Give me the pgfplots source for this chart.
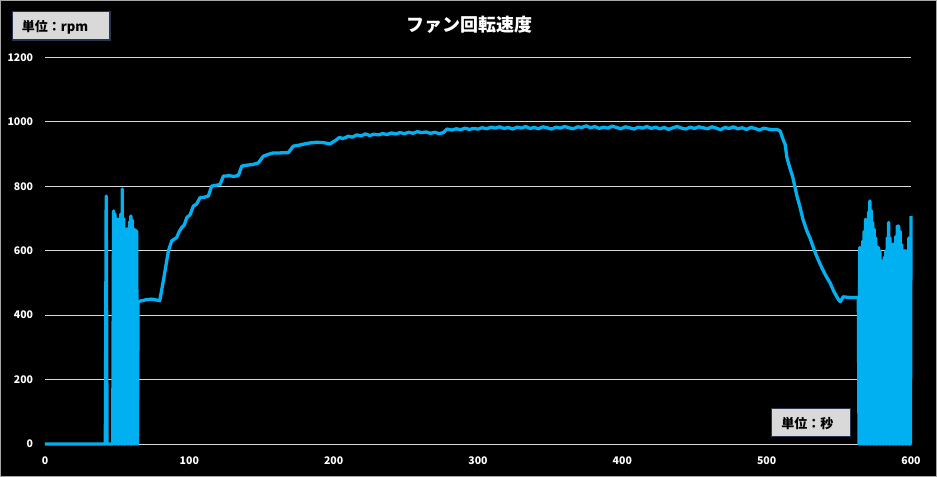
\documentclass[border=0pt]{standalone}
\usepackage{pgfplots}
\pgfplotsset{compat=1.18}
\usepackage{fontspec}
\setmainfont{Noto Sans CJK JP}
\definecolor{fan}{RGB}{0,176,240}
\definecolor{gridc}{RGB}{217,217,217}
\definecolor{boxfill}{RGB}{217,217,217}
\definecolor{boxedge}{RGB}{40,52,80}
\begin{document}
\begin{tikzpicture}
\fill[black] (0,0) rectangle (937bp,477bp);
\draw[gray!70, line width=1bp] (0.5bp,0.5bp) rectangle (936.5bp,476.5bp);
\begin{axis}[
  at={(45bp,33bp)}, anchor=south west,
  scale only axis, width=866bp, height=386.4bp,
  xmin=0, xmax=600, ymin=0, ymax=1200,
  xtick={0,100,...,600}, ytick={0,200,...,1200},
  ymajorgrids, grid style={gridc, line width=1bp},
  axis line style={draw=none}, major tick length=0pt,
  clip=false,
  /pgf/number format/assume math mode=true,
  ticklabel style={text=white, font=\bfseries\fontsize{10.5bp}{12bp}\selectfont, inner sep=0pt},
  xticklabel style={anchor=base, yshift=-20bp},
  yticklabel style={anchor=base east, xshift=-11.7bp, yshift=-3.7bp},
  /pgf/number format/.cd, 1000 sep={},
]
\addplot[fan, line width=3.3bp, line join=round] coordinates {
(0,0) (41.8,0) (42.4,770) (43.0,0) (46.9,0)
(47.5,724) (48.0,0) (48.5,715) (49.0,0) (49.5,700) (50.0,0) (50.5,693) (51.0,0)
(51.5,700) (52.0,0) (52.5,714) (53.0,0) (53.5,792) (54.0,0) (54.5,700) (55.0,0)
(55.5,668) (56.0,0) (56.5,668) (57.0,0) (57.5,668) (58.0,0) (58.5,690) (59.0,0)
(59.5,708) (60.0,0) (60.5,695) (61.0,0) (61.5,668) (62.0,0) (62.5,665) (63.0,0)
(63.5,662) (64.0,0) (64.5,440)
(66,444) (70,448) (74,450) (79.5,445) (82,507) (85.5,600) (87.8,631) (89.5,636)
(91.2,641) (93,660) (94.7,672) (96.5,680) (98.2,703) (100.5,712) (102.8,739)
(105,745) (107.4,765) (110,766) (113.2,770) (115.5,801) (118,803) (121.3,806)
(123.6,832) (128,833) (131,831) (134,834) (136.3,863) (140,866) (144,868)
(147.8,873) (151.3,894) (155,900) (158.2,904) (163,904) (168.6,905) (172,925)
(176,928) (180,932) (183.6,935) (188,937) (193,936) (197.5,932) (201,942)
(204,952) (206,949) (208,951) (210,956) (213,953) (216,960) (218,958) (219,957) (222,963) (225,958)
(228,962) (231,960) (234,964) (237,961) (240,966) (243,963) (246,967) (249,964)
(252,968) (255,965) (258,970) (261,967) (264,969) (267,965) (270,968) (273,964)
(276,967) (278.4,978) (282,975) (285,979) (288,976) (291,981) (294,977) (297,980)
(300,978) (302,981) (303,982) (306,979) (308,982) (309,984) (312,981) (315,985) (318,980) (321,983)
(324,978) (327,984) (330,981) (333,986) (336,980) (339,983) (342,979) (345,985)
(348,982) (351,978) (354,984) (357,981) (360,986) (363,982) (366,979) (369,985)
(372,983) (375,988) (378,982) (381,986) (384,980) (387,984) (390,981) (393,987)
(396,983) (399,979) (402,985) (405,982) (408,978) (411,984) (414,981) (417,986)
(420,980) (423,984) (426,979) (429,983) (432,977) (435,982) (438,986) (441,981)
(444,978) (447,984) (450,980) (453,985) (456,982) (459,979) (462,985) (465,981)
(468,976) (471,983) (474,980) (477,985) (480,979) (483,982) (486,977) (489,983)
(492,980) (495,975) (498,981) (501,978) (504,976) (507,977) (509.4,972)
(511,950) (512.8,930) (514,890) (516,858) (518,830) (519.7,796) (521,770) (523.2,734) (525,700) (527.8,662) (530,640) (532.4,610) (534,590) (537,559)
(539,540) (541.7,517) (544,500) (546.3,476) (548,462) (549.8,448) (551,442) (553,457) (558,455) (563.5,455)
(564.0,0) (564.5,610) (565.0,0) (565.5,610) (566.0,0) (566.5,630) (567.0,0)
(567.5,660) (568.0,0) (568.5,698) (569.0,0) (569.5,688) (570.0,0) (570.5,720)
(571.0,0) (571.5,755) (572.0,0) (572.5,725) (573.0,0) (573.5,688) (574.0,0)
(574.5,667) (575.0,0) (575.5,640) (576.0,0) (576.5,612) (577.0,0) (577.5,610)
(578.0,0) (578.5,600) (579.0,0) (579.5,569) (580.0,0) (580.5,569) (581.0,0)
(581.5,580) (582.0,0) (582.5,600) (583.0,0) (583.5,640) (584.0,0) (584.5,688)
(585.0,0) (585.5,640) (586.0,0) (586.5,563) (587.0,0) (587.5,621) (588.0,0)
(588.5,621) (589.0,0) (589.5,645) (590.0,0) (590.5,677) (591.0,0) (591.5,677)
(592.0,0) (592.5,660) (593.0,0) (593.5,620) (594.0,0) (594.5,600) (595.0,0)
(595.5,600) (596.0,0) (596.5,600) (597.0,0) (597.5,600) (598.0,0) (598.5,640)
(599.0,0) (599.6,0) (600,708)
};
\end{axis}
\draw[boxedge, fill=boxfill, line width=1.2bp] (12.7bp,437bp) rectangle (110bp,465.3bp);
\node[anchor=west, inner sep=0pt, text=black, font=\bfseries\fontsize{13bp}{15bp}\selectfont] at (21.7bp,449.5bp) {単位：rpm};
\draw[boxedge, fill=boxfill, line width=1.2bp] (771.7bp,40.3bp) rectangle (850.7bp,68.7bp);
\node[anchor=west, inner sep=0pt, text=black, font=\bfseries\fontsize{13bp}{15bp}\selectfont] at (781.2bp,53.7bp) {単位：秒};
\node[text=white, inner sep=0pt, font=\bfseries\fontsize{18bp}{20bp}\selectfont] at (469bp,452bp) {ファン回転速度};
\end{tikzpicture}
\end{document}
